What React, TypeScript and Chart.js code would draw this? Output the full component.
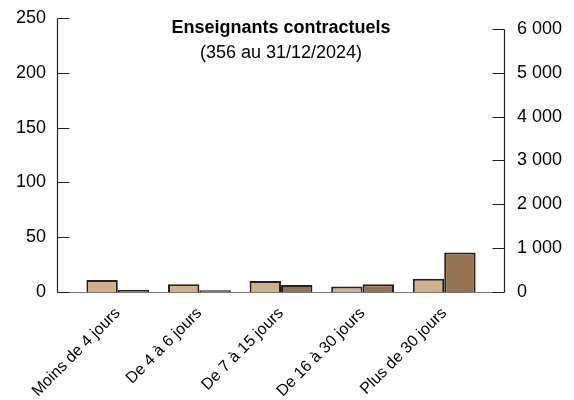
import React, { useEffect, useRef } from "react";
import { Chart, registerables } from "chart.js";

Chart.register(...registerables);

const categories = [
  "Moins de 4 jours",
  "De 4 à 6 jours",
  "De 7 à 15 jours",
  "De 16 à 30 jours",
  "Plus de 30 jours",
];
const teachers = [11, 7, 10, 5, 12];
const days = [45, 42, 160, 175, 900];
const leftTicks = [0, 50, 100, 150, 200, 250];
const rightTicks = [0, 1000, 2000, 3000, 4000, 5000, 6000];
const titleText = "Enseignants contractuels";
const subtitleText = "(356 au 31/12/2024)";

const FONT = "'Liberation Sans', Arial, Helvetica, sans-serif";
const fmt = (v: number) => String(v).replace(/\B(?=(\d{3})+(?!\d))/g, " ");

const axesPlugin = {
  id: "customAxes",
  beforeDatasetsDraw(chart: any) {
    const { ctx, chartArea } = chart;
    const yL = chart.scales.y;
    const lx = chartArea.left - 20;
    const rx = chartArea.right + 19;
    const by = Math.round(yL.getPixelForValue(0)) + 0.5;
    ctx.save();
    ctx.strokeStyle = "#7a7a7a";
    ctx.lineWidth = 1.2;
    ctx.beginPath();
    ctx.moveTo(lx, by);
    ctx.lineTo(rx, by);
    ctx.stroke();
    ctx.restore();
  },
  afterDraw(chart: any) {
    const { ctx, chartArea } = chart;
    const yL = chart.scales.y;
    const yR = chart.scales.y1;
    const lx = Math.round(chartArea.left - 20) + 0.5;
    const rx = Math.round(chartArea.right + 19) + 0.5;
    const tl = 12;
    ctx.save();
    ctx.strokeStyle = "#222";
    ctx.lineWidth = 1.2;
    const lTop = Math.round(yL.getPixelForValue(leftTicks[leftTicks.length - 1])) + 0.5;
    const lBot = Math.round(yL.getPixelForValue(0)) + 0.5;
    ctx.beginPath();
    ctx.moveTo(lx, lTop);
    ctx.lineTo(lx, lBot);
    leftTicks.forEach((v) => {
      const py = Math.round(yL.getPixelForValue(v)) + 0.5;
      ctx.moveTo(lx, py);
      ctx.lineTo(lx + tl, py);
    });
    ctx.stroke();
    const rTop = Math.round(yR.getPixelForValue(rightTicks[rightTicks.length - 1])) + 0.5;
    const rBot = Math.round(yR.getPixelForValue(0)) + 0.5;
    ctx.beginPath();
    ctx.moveTo(rx, rTop);
    ctx.lineTo(rx, rBot);
    rightTicks.forEach((v) => {
      const py = Math.round(yR.getPixelForValue(v)) + 0.5;
      ctx.moveTo(rx, py);
      ctx.lineTo(rx - tl, py);
    });
    ctx.stroke();
    const cx = (lx + rx) / 2;
    ctx.fillStyle = "#000";
    ctx.textAlign = "center";
    ctx.textBaseline = "middle";
    ctx.font = `bold 18px ${FONT}`;
    ctx.fillText(titleText, cx, 28);
    ctx.font = `18px ${FONT}`;
    ctx.fillText(subtitleText, cx, 53);
    ctx.restore();
  },
};

export default function App() {
  const ref = useRef<HTMLCanvasElement | null>(null);
  useEffect(() => {
    if (!ref.current) return;
    const chart = new Chart(ref.current, {
      type: "bar",
      data: {
        labels: categories,
        datasets: [
          {
            label: "Enseignants",
            data: teachers,
            yAxisID: "y",
            backgroundColor: "#D2AF8B",
            borderColor: "#222",
            borderWidth: 2,
            categoryPercentage: 0.77,
            barPercentage: 1,
          },
          {
            label: "Jours",
            data: days,
            yAxisID: "y1",
            backgroundColor: "#957350",
            borderColor: "#222",
            borderWidth: 2,
            categoryPercentage: 0.77,
            barPercentage: 1,
          },
        ],
      },
      options: {
        animation: false,
        responsive: false,
        maintainAspectRatio: false,
        layout: { padding: { top: 18, left: 0, right: 0, bottom: 0 } },
        plugins: {
          legend: { display: false },
          title: { display: false },
          tooltip: { enabled: false },
        },
        scales: {
          x: {
            grid: { display: false, drawTicks: false },
            border: { display: false },
            ticks: {
              minRotation: 45,
              maxRotation: 45,
              autoSkip: false,
              padding: 12,
              color: "#000",
              font: { family: FONT, size: 16 },
            },
            afterFit: (s: any) => {
              s.height = 108;
            },
          },
          y: {
            position: "left",
            min: 0,
            max: 250,
            grid: { display: false, drawTicks: true, tickLength: 31 },
            border: { display: false },
            ticks: {
              padding: 0,
              color: "#000",
              font: { family: FONT, size: 18 },
              callback: (v: any) => fmt(Number(v)),
            },
            afterBuildTicks: (s: any) => {
              s.ticks = leftTicks.map((v) => ({ value: v }));
            },
            afterFit: (s: any) => {
              s.width = 77;
            },
          },
          y1: {
            position: "right",
            min: 0,
            max: 6250,
            grid: { display: false, drawTicks: true, tickLength: 32 },
            border: { display: false },
            ticks: {
              padding: 0,
              color: "#000",
              font: { family: FONT, size: 18 },
              callback: (v: any) => fmt(Number(v)),
            },
            afterBuildTicks: (s: any) => {
              s.ticks = rightTicks.map((v) => ({ value: v }));
            },
            afterFit: (s: any) => {
              s.width = 89;
            },
          },
        },
      },
      plugins: [axesPlugin],
    });
    return () => chart.destroy();
  }, []);
  return (
    <div style={{ position: "absolute", left: 0, top: 0, width: 574, height: 400, background: "#fff" }}>
      <canvas ref={ref} width={574} height={400} style={{ width: 574, height: 400, display: "block" }} />
    </div>
  );
}
